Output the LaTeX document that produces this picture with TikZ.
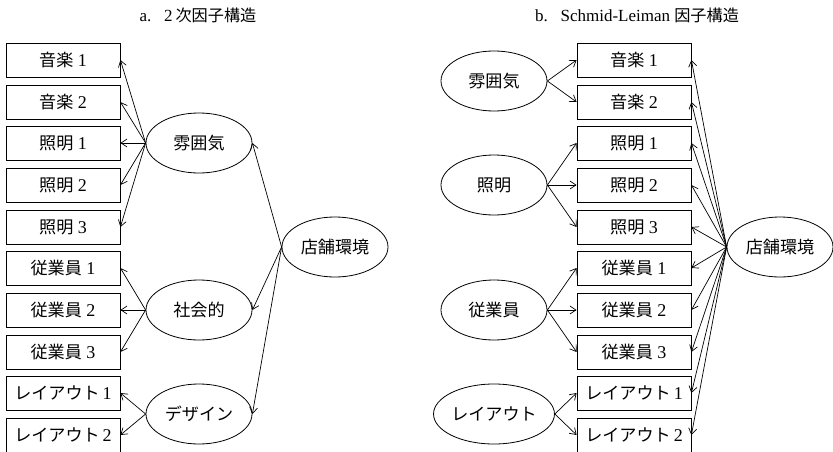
\documentclass[tikz,border=0pt]{standalone}
\usepackage{fontspec}
\setmainfont{Liberation Serif}
\newfontfamily\cjk{Noto Sans CJK JP}[Scale=0.95]
\usetikzlibrary{shapes.geometric,arrows.meta}
\newcommand{\J}[1]{{\cjk #1}}
\tikzset{
  obs/.style={draw, line width=0.8pt, rectangle, minimum width=114pt, minimum height=34pt, inner sep=0pt, font=\fontsize{18}{20}\selectfont},
  lat/.style={draw, line width=0.8pt, ellipse, minimum width=106pt, minimum height=60pt, inner sep=0pt, font=\fontsize{18}{20}\selectfont},
  ttl/.style={font=\fontsize{17}{20}\selectfont},
  con/.style={line width=0.7pt, -{Straight Barb[length=6pt,width=8pt]}}
}
\begin{document}
\begin{tikzpicture}[x=1pt,y=-1pt]
\useasboundingbox (0,0) rectangle (833,452);
% titles
\node[ttl] (ta) at (198,15) {a.\enspace\ 2\,\J{次因子構造}};
\node[ttl] (tb) at (637,15) {b.\enspace\ Schmid-Leiman \J{因子構造}};
% left panel boxes
\node[obs] (a1) at (63,60) {\J{音楽} 1};
\node[obs] (a2) at (63,102) {\J{音楽} 2};
\node[obs] (a3) at (63,143) {\J{照明} 1};
\node[obs] (a4) at (63,185) {\J{照明} 2};
\node[obs] (a5) at (63,227) {\J{照明} 3};
\node[obs] (a6) at (63,268) {\J{従業員} 1};
\node[obs] (a7) at (63,310) {\J{従業員} 2};
\node[obs] (a8) at (63,352) {\J{従業員} 3};
\node[obs] (a9) at (63,393) {\J{レイアウト}\,1};
\node[obs] (a10) at (63,435) {\J{レイアウト}\,2};
% left panel latents
\node[lat] (fa1) at (199,143) {\J{雰囲気}};
\node[lat] (fa2) at (199,310) {\J{社会的}};
\node[lat] (fa3) at (199,414) {\J{デザイン}};
\node[lat] (ga) at (335,247) {\J{店舗環境}};
\foreach \b in {a1,a2,a3,a4,a5} \draw[con] (fa1.west) -- (\b.east);
\foreach \b in {a6,a7,a8} \draw[con] (fa2.west) -- (\b.east);
\foreach \b in {a9,a10} \draw[con] (fa3.west) -- (\b.east);
\foreach \f in {fa1,fa2,fa3} \draw[con] (ga.west) -- (\f.east);
% right panel boxes
\node[obs] (b1) at (634,60) {\J{音楽} 1};
\node[obs] (b2) at (634,102) {\J{音楽} 2};
\node[obs] (b3) at (634,143) {\J{照明} 1};
\node[obs] (b4) at (634,185) {\J{照明} 2};
\node[obs] (b5) at (634,227) {\J{照明} 3};
\node[obs] (b6) at (634,268) {\J{従業員} 1};
\node[obs] (b7) at (634,310) {\J{従業員} 2};
\node[obs] (b8) at (634,352) {\J{従業員} 3};
\node[obs] (b9) at (634,393) {\J{レイアウト}\,1};
\node[obs] (b10) at (634,435) {\J{レイアウト}\,2};
% right panel latents
\node[lat] (fb1) at (494,81) {\J{雰囲気}};
\node[lat] (fb2) at (494,185) {\J{照明}};
\node[lat] (fb3) at (494,310) {\J{従業員}};
\node[lat] (fb4) at (494,414) {\J{レイアウト}};
\node[lat] (gb) at (780,247) {\J{店舗環境}};
\foreach \b in {b1,b2} \draw[con] (fb1.east) -- (\b.west);
\foreach \b in {b3,b4,b5} \draw[con] (fb2.east) -- (\b.west);
\foreach \b in {b6,b7,b8} \draw[con] (fb3.east) -- (\b.west);
\foreach \b in {b9,b10} \draw[con] (fb4.east) -- (\b.west);
\foreach \b in {b1,b2,b3,b4,b5,b6,b7,b8,b9,b10} \draw[con] (gb.west) -- (\b.east);
\end{tikzpicture}
\end{document}
